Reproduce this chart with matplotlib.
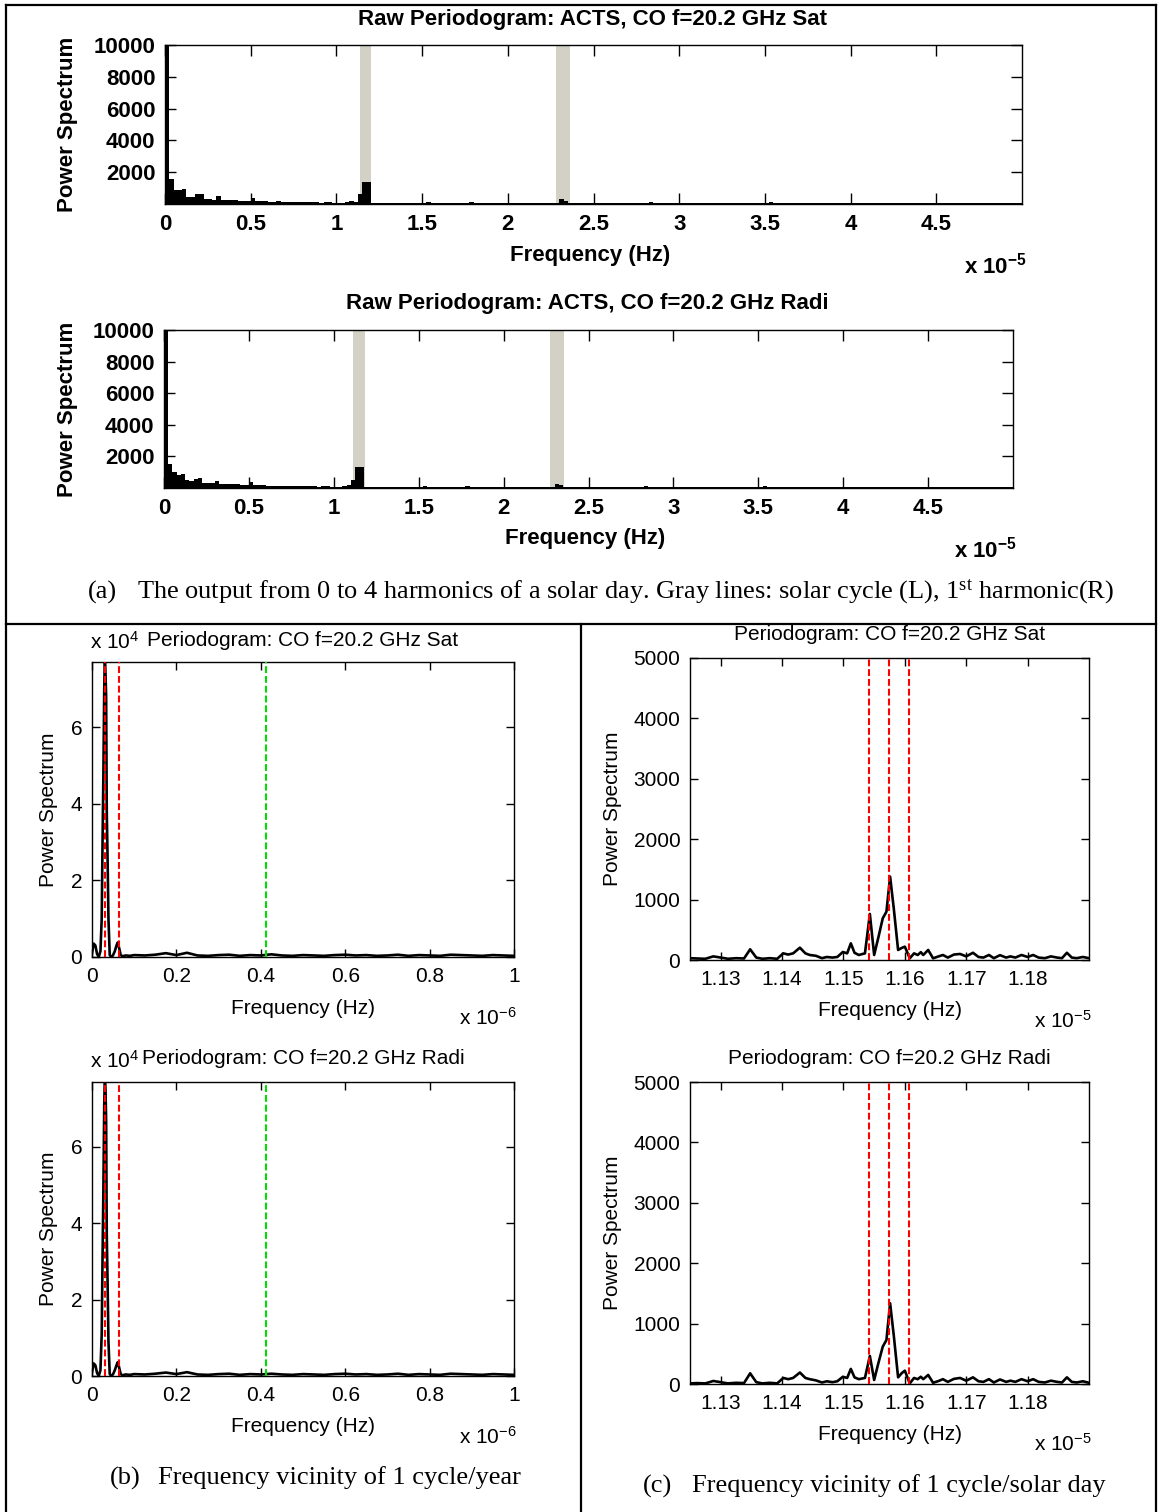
import numpy as np
import matplotlib
matplotlib.use("Agg")
import matplotlib.pyplot as plt
from matplotlib.lines import Line2D

plt.rcParams['font.family'] = ['Liberation Sans', 'DejaVu Sans']

# ---------------- data ----------------
# (a) raw periodograms, frequency in units of 1e-5 Hz, bins of 0.025
A_EDGES_MAX = 5.0
A_SAT = [
    12000, 1600, 900, 900, 950, 450, 450, 650, 650, 300,
    300, 280, 480, 250, 240, 230, 260, 220, 200, 210,
    380, 180, 160, 170, 150, 140, 160, 130, 120, 140,
    110, 120, 100, 110, 130, 100, 90, 100, 110, 90,
    80, 90, 100, 200, 120, 600, 1400, 1400, 60, 70,
    80, 60, 70, 60, 80, 50, 60, 70, 60, 50,
    60, 120, 50, 60, 70, 50, 90, 60, 50, 60,
    70, 130, 60, 50, 60, 70, 60, 50, 60, 50,
    50, 60, 50, 80, 60, 50, 70, 60, 50, 60,
    60, 70, 300, 200, 50, 60, 50, 60, 50, 70,
    50, 60, 40, 50, 90, 40, 50, 60, 40, 50,
    60, 40, 50, 100, 40, 50, 60, 40, 50, 40,
    50, 60, 40, 50, 40, 60, 50, 40, 90, 50,
    40, 50, 60, 40, 50, 40, 50, 60, 40, 50,
    40, 100, 50, 40, 60, 40, 50, 40, 60, 40,
    50, 40, 50, 60, 40, 50, 40, 80, 40, 50,
    40, 50, 40, 60, 40, 50, 40, 50, 40, 60,
    50, 40, 50, 40, 90, 40, 50, 40, 60, 40,
    50, 40, 60, 40, 50, 40, 50, 40, 60, 40,
    50, 40, 50, 40, 60, 40, 80, 40, 50, 40]
A_RADI = [
    12000, 1500, 1000, 850, 900, 500, 450, 600, 620, 320,
    300, 300, 450, 260, 250, 230, 250, 230, 200, 200,
    350, 170, 160, 170, 150, 150, 150, 130, 120, 130,
    110, 110, 100, 120, 120, 100, 90, 100, 100, 90,
    80, 90, 100, 180, 500, 1300, 1300, 80, 60, 70,
    80, 60, 70, 60, 80, 50, 60, 70, 60, 50,
    60, 110, 50, 60, 70, 50, 90, 60, 50, 60,
    70, 120, 60, 50, 60, 70, 60, 50, 60, 50,
    50, 60, 50, 80, 60, 50, 70, 60, 50, 60,
    60, 70, 280, 180, 50, 60, 50, 60, 50, 70,
    50, 60, 40, 50, 90, 40, 50, 60, 40, 50,
    60, 40, 50, 100, 40, 50, 60, 40, 50, 40,
    50, 60, 40, 50, 40, 60, 50, 40, 90, 50,
    40, 50, 60, 40, 50, 40, 50, 60, 40, 50,
    40, 100, 50, 40, 60, 40, 50, 40, 60, 40,
    50, 40, 50, 60, 40, 50, 40, 80, 40, 50,
    40, 50, 40, 60, 40, 50, 40, 50, 40, 60,
    50, 40, 50, 40, 90, 40, 50, 40, 60, 40,
    50, 40, 60, 40, 50, 40, 50, 40, 60, 40,
    50, 40, 50, 40, 60, 40, 80, 40, 50, 40]
A_GRAY_SAT = [(1.136, 1.200), (2.284, 2.360)]
A_GRAY_RADI = [(1.114, 1.185), (2.276, 2.353)]
A_XTICKS = [0, 0.5, 1, 1.5, 2, 2.5, 3, 3.5, 4, 4.5]
A_XTICKLABELS = ['0', '0.5', '1', '1.5', '2', '2.5', '3', '3.5', '4', '4.5']
A_YTICKS = [2000, 4000, 6000, 8000, 10000]

# (b) vicinity of 1 cycle/year: frequency in 1e-6 Hz, power in 1e4
B_FREQ = [0.000, 0.004, 0.008, 0.012, 0.016, 0.020, 0.023, 0.025, 0.027, 0.029,
          0.0305, 0.032, 0.0335, 0.035, 0.037, 0.039, 0.042, 0.046, 0.050, 0.054,
          0.058, 0.061, 0.064, 0.068, 0.072, 0.080, 0.090, 0.100,
          0.125, 0.150, 0.175, 0.200, 0.225, 0.250, 0.275, 0.300, 0.325, 0.350,
          0.375, 0.400, 0.425, 0.450, 0.475, 0.500, 0.525, 0.550, 0.575, 0.600,
          0.625, 0.650, 0.675, 0.700, 0.725, 0.750, 0.775, 0.800, 0.825, 0.850,
          0.875, 0.900, 0.925, 0.950, 0.975, 1.000]
B_SAT = [0.10, 0.35, 0.30, 0.08, 0.00, 0.15, 1.00, 3.00, 4.80, 7.00,
         7.90, 7.40, 6.80, 3.80, 2.50, 1.00, 0.05, 0.00, 0.05, 0.15,
         0.30, 0.38, 0.25, 0.05, 0.02, 0.04, 0.03, 0.05,
         0.04, 0.06, 0.10, 0.05, 0.11, 0.04, 0.03, 0.05, 0.06, 0.03,
         0.05, 0.04, 0.07, 0.04, 0.03, 0.05, 0.04, 0.03, 0.05, 0.06,
         0.04, 0.05, 0.03, 0.04, 0.06, 0.03, 0.05, 0.04, 0.03, 0.06,
         0.05, 0.04, 0.03, 0.05, 0.04, 0.03]
B_RADI = [0.10, 0.33, 0.28, 0.08, 0.00, 0.15, 1.10, 3.10, 4.90, 7.10,
          7.90, 7.50, 6.70, 3.70, 2.40, 0.90, 0.05, 0.00, 0.05, 0.15,
          0.28, 0.36, 0.24, 0.05, 0.02, 0.04, 0.03, 0.05,
          0.04, 0.06, 0.09, 0.05, 0.10, 0.04, 0.03, 0.05, 0.06, 0.03,
          0.05, 0.04, 0.06, 0.04, 0.03, 0.05, 0.04, 0.03, 0.05, 0.06,
          0.04, 0.05, 0.03, 0.04, 0.06, 0.03, 0.05, 0.04, 0.03, 0.06,
          0.05, 0.04, 0.03, 0.05, 0.04, 0.03]
B_RED = [0.0317, 0.0634]       # 1 cycle/year and its harmonic
B_GREEN = [0.413]              # lunar month
B_XTICKS = [0, 0.2, 0.4, 0.6, 0.8, 1]
B_XTICKLABELS = ['0', '0.2', '0.4', '0.6', '0.8', '1']
B_YTICKS = [0, 2, 4, 6]

# (c) vicinity of 1 cycle/solar day: frequency in 1e-5 Hz
C_FREQ = [1.1250, 1.1262, 1.1275, 1.1288, 1.1300, 1.1312, 1.1325, 1.1338, 1.1348, 1.1358,
          1.1368, 1.1380, 1.1392, 1.1402, 1.1410, 1.1418, 1.1429, 1.1438, 1.1445, 1.1455,
          1.1465, 1.1473, 1.1482, 1.1490, 1.1499, 1.1506, 1.1512, 1.1518, 1.1525, 1.1535,
          1.1543, 1.1550, 1.1557, 1.1564, 1.1570, 1.1576, 1.1582, 1.1589, 1.1595, 1.1600,
          1.1608, 1.1615, 1.1621, 1.1626, 1.1630, 1.1638, 1.1646, 1.1655, 1.1662, 1.1670,
          1.1680, 1.1690, 1.1700, 1.1711, 1.1720, 1.1728, 1.1737, 1.1745, 1.1755, 1.1765,
          1.1772, 1.1780, 1.1790, 1.1800, 1.1809, 1.1818, 1.1828, 1.1838, 1.1848, 1.1856,
          1.1864, 1.1872, 1.1880, 1.1890, 1.1900]
C_SAT = [30, 25, 20, 60, 40, 20, 30, 25, 177, 40,
         20, 30, 20, 110, 90, 110, 204, 110, 83, 70,
         30, 50, 40, 50, 133, 110, 276, 120, 83, 110,
         762, 83, 380, 690, 800, 1380, 850, 166, 200, 221,
         28, 110, 83, 130, 83, 166, 28, 60, 83, 40,
         90, 100, 60, 120, 50, 40, 83, 30, 80, 40,
         60, 40, 83, 50, 83, 40, 30, 60, 40, 30,
         120, 40, 30, 50, 30]
C_RADI = [10, 15, 10, 50, 30, 10, 20, 15, 177, 30,
          10, 20, 10, 100, 80, 100, 190, 100, 80, 60,
          25, 45, 30, 45, 120, 100, 250, 110, 80, 100,
          464, 66, 350, 618, 728, 1336, 800, 110, 180, 221,
          10, 100, 80, 120, 80, 150, 20, 50, 80, 35,
          85, 100, 55, 110, 45, 35, 80, 25, 75, 35,
          55, 35, 80, 45, 80, 35, 25, 55, 35, 25,
          110, 35, 25, 45, 20]
C_RED = [1.1542, 1.1574, 1.1606]
C_XTICKS = [1.13, 1.14, 1.15, 1.16, 1.17, 1.18]
C_XTICKLABELS = ['1.13', '1.14', '1.15', '1.16', '1.17', '1.18']
C_YTICKS = [0, 1000, 2000, 3000, 4000, 5000]

# ---------------- figure helpers ----------------
W, H = 1162, 1512
fig = plt.figure(figsize=(W / 100, H / 100), dpi=100)
SERIF = 'Liberation Serif'
CAP_FS = 19


def px_axes(l, t, r, b):
    return fig.add_axes([l / W, 1 - b / H, (r - l) / W, (b - t) / H])


def ftext(x, y, s, **kw):
    return fig.text(x / W, 1 - y / H, s, **kw)


def fline(x0, y0, x1, y1, lw=1.6):
    fig.add_artist(Line2D([x0 / W, x1 / W], [1 - y0 / H, 1 - y1 / H],
                          color='black', lw=lw, transform=fig.transFigure))


def style(ax, fs, weight='normal', ticklen=6):
    ax.tick_params(direction='in', top=True, right=True, length=ticklen, width=1,
                   labelsize=fs, pad=7, colors='black')
    for lab in ax.get_xticklabels() + ax.get_yticklabels():
        lab.set_fontweight(weight)
    for sp in ax.spines.values():
        sp.set_linewidth(1.0)


# table borders
fline(6, 5, 1156, 5)
fline(6, 5, 6, 1512)
fline(1156, 5, 1156, 1512)
fline(6, 624, 1156, 624)
fline(581, 624, 581, 1512)

# ---------------- (a) panels ----------------
AFS = 16
edges = np.linspace(0, A_EDGES_MAX, len(A_SAT) + 1)
panelsA = [
    dict(box=(165, 45, 1022, 204), vals=A_SAT, gray=A_GRAY_SAT,
         title='Raw Periodogram: ACTS, CO f=20.2 GHz Sat', ty=20, tx=592,
         xl=(590, 255), mult=(964, 266)),
    dict(box=(164, 330, 1013, 488), vals=A_RADI, gray=A_GRAY_RADI,
         title='Raw Periodogram: ACTS, CO f=20.2 GHz Radi', ty=304, tx=587,
         xl=(585, 539), mult=(954, 550)),
]
for p in panelsA:
    l, t, r, b = p['box']
    ax = px_axes(l, t, r, b)
    for (g0, g1) in p['gray']:
        ax.axvspan(g0, g1, color='#d3d1c6', lw=0, zorder=1)
    ax.stairs(p['vals'], edges, fill=True, color='black', zorder=2)
    ax.set_xlim(0, 5)
    ax.set_ylim(0, 10000)
    ax.set_xticks(A_XTICKS)
    ax.set_xticklabels(A_XTICKLABELS)
    ax.set_yticks(A_YTICKS)
    ax.set_yticklabels([str(v) for v in A_YTICKS])
    style(ax, AFS, 'bold', ticklen=8)
    ftext(p['tx'], p['ty'], p['title'], ha='center', va='center', fontsize=AFS,
          fontweight='bold')
    ftext(68, (t + b) / 2, 'Power Spectrum', rotation=90, ha='center', va='center',
          fontsize=AFS, fontweight='bold')
    ftext(p['xl'][0], p['xl'][1], 'Frequency (Hz)', ha='center', va='center',
          fontsize=AFS, fontweight='bold')
    ftext(p['mult'][0], p['mult'][1], r'x 10$\mathregular{^{-5}}$', ha='left',
          va='center', fontsize=AFS, fontweight='bold')

ftext(88, 592, '(a)', ha='left', va='center', fontsize=CAP_FS, family=SERIF)
ftext(137, 592, r'The output from 0 to 4 harmonics of a solar day. Gray lines: '
      r'solar cycle (L), 1$\mathregular{^{st}}$ harmonic(R)',
      ha='left', va='center', fontsize=CAP_FS, family=SERIF)

# ---------------- (b) panels ----------------
panelsB = [
    dict(box=(92, 662, 514, 957), vals=B_SAT, title='Periodogram: CO f=20.2 GHz Sat',
         ty=640, xl=1008, mult=1018),
    dict(box=(92, 1082, 514, 1376), vals=B_RADI, title='Periodogram: CO f=20.2 GHz Radi',
         ty=1059, xl=1427, mult=1437),
]
for p in panelsB:
    l, t, r, b = p['box']
    ax = px_axes(l, t, r, b)
    ax.plot(B_FREQ, p['vals'], color='black', lw=1.9, zorder=2)
    for f in B_RED:
        ax.axvline(f, color='#ff0000', lw=1.5, dashes=(3.3, 1.4), zorder=3)
    for f in B_GREEN:
        ax.axvline(f, color='#00dd00', lw=1.5, dashes=(3.3, 1.4), zorder=3)
    ax.set_xlim(0, 1)
    ax.set_ylim(0, 7.7)
    ax.set_xticks(B_XTICKS)
    ax.set_xticklabels(B_XTICKLABELS)
    ax.set_yticks(B_YTICKS)
    ax.set_yticklabels([str(v) for v in B_YTICKS])
    style(ax, 15)
    ftext((l + r) / 2, p['ty'], p['title'], ha='center', va='center', fontsize=15)
    ftext(90, p['ty'] + 2, r'x 10$\mathregular{^{4}}$', ha='left', va='center', fontsize=15)
    ftext(48, (t + b) / 2, 'Power Spectrum', rotation=90, ha='center', va='center',
          fontsize=15)
    ftext((l + r) / 2, p['xl'], 'Frequency (Hz)', ha='center', va='center', fontsize=15)
    ftext(459, p['mult'], r'x 10$\mathregular{^{-6}}$', ha='left', va='center',
          fontsize=15)

ftext(110, 1478, '(b)', ha='left', va='center', fontsize=CAP_FS, family=SERIF)
ftext(158, 1478, 'Frequency vicinity of 1 cycle/year', ha='left', va='center',
      fontsize=CAP_FS, family=SERIF)

# ---------------- (c) panels ----------------
panelsC = [
    dict(box=(690, 658, 1089, 960), vals=C_SAT, title='Periodogram: CO f=20.2 GHz Sat',
         ty=634, xl=1011, mult=1021),
    dict(box=(690, 1082, 1089, 1384), vals=C_RADI, title='Periodogram: CO f=20.2 GHz Radi',
         ty=1058, xl=1434, mult=1444),
]
for p in panelsC:
    l, t, r, b = p['box']
    ax = px_axes(l, t, r, b)
    ax.plot(C_FREQ, p['vals'], color='black', lw=1.9, zorder=2)
    for f in C_RED:
        ax.axvline(f, color='#ff0000', lw=1.5, dashes=(3.3, 1.4), zorder=3)
    ax.set_xlim(1.125, 1.19)
    ax.set_ylim(0, 5000)
    ax.set_xticks(C_XTICKS)
    ax.set_xticklabels(C_XTICKLABELS)
    ax.set_yticks(C_YTICKS)
    ax.set_yticklabels([str(v) for v in C_YTICKS])
    style(ax, 15)
    ftext((l + r) / 2, p['ty'], p['title'], ha='center', va='center', fontsize=15)
    ftext(612, (t + b) / 2, 'Power Spectrum', rotation=90, ha='center', va='center',
          fontsize=15)
    ftext((l + r) / 2, p['xl'], 'Frequency (Hz)', ha='center', va='center', fontsize=15)
    ftext(1034, p['mult'], r'x 10$\mathregular{^{-5}}$', ha='left', va='center',
          fontsize=15)

ftext(643, 1486, '(c)', ha='left', va='center', fontsize=CAP_FS, family=SERIF)
ftext(692, 1486, 'Frequency vicinity of 1 cycle/solar day', ha='left', va='center',
      fontsize=CAP_FS, family=SERIF)

fig.savefig('out.png', dpi=100, facecolor='white')
